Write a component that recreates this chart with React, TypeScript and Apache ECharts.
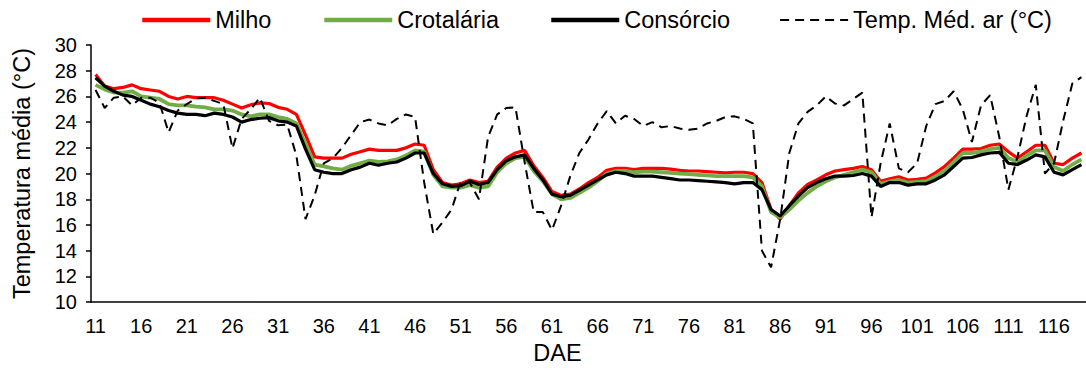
import React, { useEffect, useRef } from "react";
import * as echarts from "echarts";

// DAE categories 11..119
const days: string[] = [];
for (let d = 11; d <= 119; d++) days.push(String(d));

const milho = [
  27.7, 26.8, 26.6, 26.7, 26.9, 26.6, 26.5, 26.4, 26.0, 25.8,
  26.0, 25.9, 25.9, 25.9, 25.7, 25.4, 25.1, 25.35, 25.5, 25.45,
  25.15, 25.0, 24.6, 23.0, 21.3, 21.2, 21.2, 21.2, 21.5, 21.7,
  21.9, 21.8, 21.8, 21.8, 22.0, 22.3, 22.2, 20.3, 19.3, 19.1,
  19.2, 19.5, 19.3, 19.4, 20.5, 21.2, 21.6, 21.8, 20.6, 19.7,
  18.6, 18.3, 18.4, 18.8, 19.3, 19.7, 20.25, 20.4, 20.4, 20.3,
  20.4, 20.4, 20.4, 20.35, 20.25, 20.2, 20.2, 20.15, 20.1, 20.05,
  20.1, 20.1, 20.0, 19.3, 17.2, 16.45, 17.5, 18.5, 19.15, 19.5,
  19.9, 20.2, 20.3, 20.4, 20.55, 20.3, 19.4, 19.6, 19.75, 19.5,
  19.55, 19.65, 20.05, 20.55, 21.2, 21.9, 21.9, 21.95, 22.2, 22.3,
  21.7, 21.2, 21.7, 22.2, 22.2, 20.8, 20.7, 21.2, 21.6,
];

const crotalaria = [
  26.9, 26.55, 26.3, 26.3, 26.4, 26.0, 25.9, 25.8, 25.4, 25.3,
  25.3, 25.2, 25.15, 25.0, 25.0, 24.9, 24.6, 24.45, 24.6, 24.6,
  24.4, 24.25, 23.9, 22.3, 20.7, 20.55, 20.4, 20.3, 20.6, 20.8,
  21.0, 20.9, 20.95, 21.1, 21.4, 21.8, 21.7, 19.9, 19.0, 18.9,
  18.9, 19.1, 18.9, 19.0, 20.1, 20.8, 21.2, 21.3, 20.2, 19.4,
  18.4, 18.0, 18.1, 18.5, 18.9, 19.4, 20.0, 20.2, 20.2, 20.1,
  20.15, 20.15, 20.1, 20.05, 20.0, 19.95, 19.9, 19.85, 19.8, 19.8,
  19.8, 19.8, 19.7, 19.0, 17.0, 16.6, 17.2, 17.9, 18.5, 19.0,
  19.4, 19.7, 19.9, 20.1, 20.3, 20.1, 19.2, 19.4, 19.5, 19.3,
  19.35, 19.4, 19.75, 20.2, 20.9, 21.6, 21.6, 21.7, 21.9, 22.0,
  21.2, 20.9, 21.4, 21.8, 21.8, 20.5, 20.2, 20.7, 21.1,
];

const consorcio = [
  27.45, 26.8, 26.4, 26.1, 26.0, 25.7, 25.4, 25.2, 24.9, 24.7,
  24.6, 24.6, 24.5, 24.7, 24.6, 24.4, 24.0, 24.2, 24.3, 24.35,
  24.1, 24.0, 23.7, 21.9, 20.3, 20.1, 20.0, 20.0, 20.3, 20.5,
  20.8, 20.65, 20.8, 20.9, 21.2, 21.6, 21.6, 20.0, 19.2, 19.0,
  19.05, 19.4, 19.15, 19.3, 20.3, 21.0, 21.3, 21.45, 20.4, 19.5,
  18.4, 18.2, 18.3, 18.7, 19.1, 19.5, 19.9, 20.1, 20.0, 19.8,
  19.8, 19.8, 19.7, 19.6, 19.5, 19.5, 19.45, 19.4, 19.35, 19.3,
  19.2, 19.3, 19.3, 18.75, 17.2, 16.7, 17.5, 18.25, 18.9, 19.3,
  19.6, 19.8, 19.8, 19.85, 20.0, 19.8, 19.0, 19.3, 19.3, 19.1,
  19.2, 19.2, 19.5, 19.9, 20.55, 21.2, 21.25, 21.45, 21.6, 21.65,
  20.8, 20.7, 21.05, 21.45, 21.3, 20.1, 19.9, 20.3, 20.7,
];

const tempAr = [
  26.5, 25.1, 25.9, 26.0, 25.3, 25.9, 25.9, 25.5, 23.2, 24.9,
  25.4, 25.85, 25.9, 25.65, 25.4, 21.95, 24.25, 25.0, 25.9, 24.1,
  23.75, 23.8, 21.4, 16.45, 18.3, 20.8, 21.2, 22.0, 23.0, 24.0,
  24.2, 23.9, 23.75, 24.25, 24.6, 24.4, 19.3, 15.3, 16.2, 17.2,
  19.4, 19.3, 18.0, 22.85, 24.6, 25.1, 25.15, 20.9, 17.0, 17.0,
  15.6, 17.5, 19.8, 21.6, 22.65, 23.9, 24.85, 23.9, 24.5, 24.25,
  23.7, 24.0, 23.6, 23.7, 23.5, 23.4, 23.5, 23.9, 24.1, 24.4,
  24.45, 24.25, 23.9, 14.0, 12.7, 16.45, 21.6, 23.9, 24.8, 25.3,
  26.0, 25.45, 25.3, 25.8, 26.3, 16.6, 20.8, 23.9, 20.4, 20.1,
  20.8, 23.7, 25.4, 25.65, 26.4, 25.0, 22.45, 25.3, 26.1, 22.85,
  18.75, 21.3, 24.5, 26.9, 20.0, 20.8, 24.1, 27.0, 27.5,
];

const seriesNames = ["Milho", "Crotalária", "Consórcio", "Temp. Méd. ar (°C)"];
const yTitle = "Temperatura média (°C)";
const xTitle = "DAE";

export default function App() {
  const ref = useRef<HTMLDivElement>(null);
  useEffect(() => {
    if (!ref.current) return;
    const chart = echarts.init(ref.current, undefined, { renderer: "svg" });
    const font = "'Liberation Sans', Arial, sans-serif";
    const legendBase = {
      top: 8,
      padding: 0,
      itemWidth: 68,
      itemHeight: 14,
      itemStyle: { opacity: 0 },
      textStyle: { fontSize: 23.5, color: "#000", fontFamily: font },
    };
    chart.setOption({
      animation: false,
      backgroundColor: "#fff",
      textStyle: { fontFamily: font },
      legend: [
        { ...legendBase, left: 140, data: [seriesNames[0]], lineStyle: { width: 4.5 } },
        { ...legendBase, left: 322, data: [seriesNames[1]], lineStyle: { width: 4.5 } },
        { ...legendBase, left: 549, data: [seriesNames[2]], lineStyle: { width: 4.5 } },
        { ...legendBase, left: 779, data: [seriesNames[3]], lineStyle: { width: 2.2 } },
      ],
      grid: { left: 91, right: -15, top: 45, bottom: 64, containLabel: false },
      xAxis: {
        type: "category",
        data: days,
        boundaryGap: true,
        name: xTitle,
        nameLocation: "middle",
        nameGap: 37,
        nameTextStyle: { fontSize: 23.5, color: "#000", padding: [0, 62, 0, 0] },
        axisLine: { lineStyle: { color: "#000", width: 1.5 } },
        axisTick: { interval: 4, length: 6, lineStyle: { color: "#000", width: 1.5 } },
        axisLabel: { interval: 4, fontSize: 20, color: "#000", margin: 14 },
        splitLine: { show: false },
      },
      yAxis: {
        type: "value",
        min: 10,
        max: 30,
        interval: 2,
        name: yTitle,
        nameLocation: "middle",
        nameGap: 57,
        nameTextStyle: { fontSize: 23.5, color: "#000" },
        axisLine: { show: true, lineStyle: { color: "#000", width: 1.5 } },
        axisTick: { show: true, length: 5, lineStyle: { color: "#000", width: 1.5 } },
        axisLabel: { fontSize: 20, color: "#000", margin: 14 },
        splitLine: { show: false },
      },
      series: [
        {
          name: seriesNames[0], type: "line", data: milho, symbol: "none",
          lineStyle: { color: "#FF0000", width: 3.2 }, itemStyle: { color: "#FF0000" },
        },
        {
          name: seriesNames[1], type: "line", data: crotalaria, symbol: "none",
          lineStyle: { color: "#70AD47", width: 3.8 }, itemStyle: { color: "#70AD47" },
        },
        {
          name: seriesNames[2], type: "line", data: consorcio, symbol: "none",
          lineStyle: { color: "#000000", width: 3.2 }, itemStyle: { color: "#000000" },
        },
        {
          name: seriesNames[3], type: "line", data: tempAr, symbol: "none",
          lineStyle: { color: "#000000", width: 2, type: [9, 6] }, itemStyle: { color: "#000000" },
        },
      ],
    });
    return () => chart.dispose();
  }, []);
  return (
    <div
      ref={ref}
      style={{ position: "absolute", left: 0, top: 0, width: 1086, height: 370, background: "#fff" }}
    />
  );
}
